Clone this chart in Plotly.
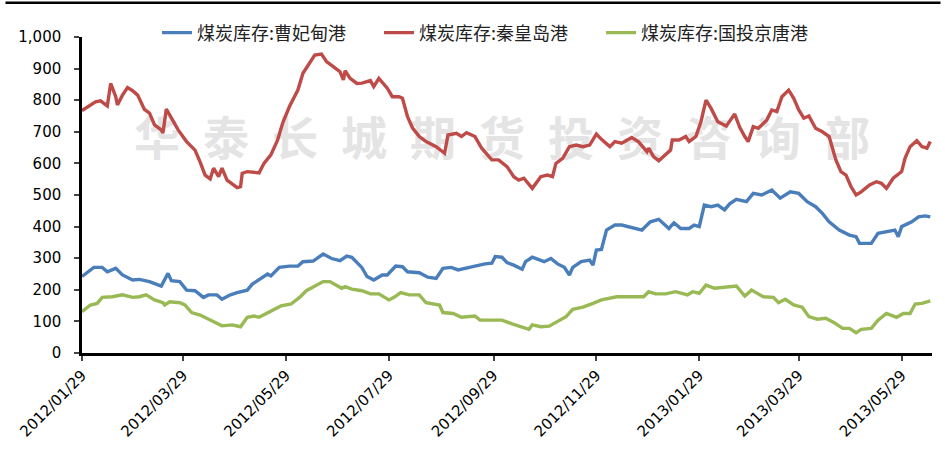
import pandas as pd
import plotly.graph_objects as go

start = pd.Timestamp('2012-01-29')

# day offsets from 2012/01/29 and values
cfd_days = [0, 7, 12, 15, 20, 24, 30, 34, 40, 47, 51, 53, 58, 62, 67, 72, 75, 80, 83, 88, 92, 98, 101, 105,
            110, 112, 117, 123, 128, 131, 137, 143, 148, 153, 157, 160, 166, 169, 173, 178, 181, 186, 190,
            193, 200, 205, 210, 214, 219, 223, 228, 233, 239, 243, 245, 249, 252, 256, 261, 263, 267, 271,
            274, 278, 282, 286, 289, 291, 296, 301, 303, 305, 308, 311, 316, 320, 324, 329, 332, 337, 342,
            348, 351, 355, 360, 363, 366, 369, 373, 377, 381, 384, 388, 394, 398, 403, 409, 414, 420, 425,
            430, 435, 439, 443, 449, 455, 459, 461, 467, 468, 472, 478, 482, 484, 486, 492, 496, 500, 503]
cfd_vals = [242, 271, 271, 257, 268, 247, 231, 233, 226, 212, 252, 229, 226, 199, 197, 176, 184, 184, 170,
            184, 191, 199, 218, 231, 250, 244, 271, 275, 275, 289, 291, 313, 299, 292, 307, 303, 270, 242,
            231, 247, 247, 275, 273, 257, 254, 240, 236, 268, 271, 263, 268, 275, 282, 284, 305, 303, 286,
            278, 265, 289, 303, 294, 289, 299, 282, 271, 247, 271, 289, 294, 278, 326, 328, 389, 405, 405,
            400, 394, 389, 415, 423, 394, 412, 394, 394, 405, 400, 468, 463, 468, 453, 472, 486, 479, 505,
            500, 516, 490, 510, 505, 479, 463, 442, 415, 389, 373, 368, 347, 349, 347, 379, 384, 389, 368,
            400, 415, 431, 434, 431]

qhd_days = [0, 5, 8, 11, 15, 17, 20, 21, 24, 27, 30, 33, 37, 40, 43, 47, 48, 50, 53, 57, 62, 67, 70, 73, 76,
            78, 81, 83, 86, 89, 92, 94, 95, 98, 105, 108, 112, 116, 119, 123, 128, 131, 135, 138, 142, 145,
            149, 153, 155, 156, 159, 163, 166, 171, 173, 176, 181, 184, 188, 190, 193, 196, 200, 204, 210,
            215, 217, 222, 225, 228, 233, 237, 243, 247, 252, 256, 259, 262, 267, 272, 276, 279, 281, 285,
            289, 293, 297, 301, 305, 308, 313, 316, 320, 326, 330, 335, 336, 339, 342, 346, 349, 350, 354,
            358, 360, 364, 367, 370, 373, 377, 380, 382, 387, 390, 393, 395, 398, 401, 406, 409, 412, 415,
            419, 422, 425, 428, 431, 435, 439, 443, 447, 450, 453, 456, 459, 462, 467, 471, 474, 477, 481,
            486, 488, 491, 495, 498, 501, 503]
qhd_vals = [767, 785, 795, 798, 782, 853, 811, 785, 816, 840, 830, 816, 771, 759, 722, 706, 696, 772, 744,
            706, 669, 642, 605, 563, 551, 585, 558, 585, 547, 535, 523, 526, 569, 574, 570, 601, 627, 674,
            728, 780, 832, 885, 917, 943, 946, 922, 906, 890, 864, 893, 869, 853, 854, 862, 843, 869, 838,
            811, 811, 806, 748, 712, 685, 669, 653, 632, 690, 695, 685, 697, 685, 648, 611, 611, 590, 558,
            547, 553, 521, 558, 563, 558, 600, 616, 653, 658, 653, 658, 693, 676, 653, 669, 664, 682, 668,
            637, 648, 621, 608, 627, 642, 674, 674, 685, 669, 685, 732, 800, 774, 732, 722, 718, 756, 714,
            685, 669, 716, 711, 737, 769, 764, 811, 832, 806, 769, 743, 750, 711, 700, 685, 611, 574, 563,
            526, 500, 510, 532, 542, 537, 521, 553, 574, 616, 653, 672, 653, 648, 669]

gtjt_days = [0, 5, 9, 12, 18, 24, 30, 34, 38, 43, 48, 49, 52, 58, 61, 65, 70, 75, 80, 83, 89, 94, 98, 102,
             105, 110, 114, 118, 124, 129, 133, 137, 143, 147, 151, 154, 156, 160, 166, 171, 176, 182, 185,
             189, 194, 200, 204, 212, 214, 220, 225, 233, 236, 243, 249, 255, 261, 265, 267, 272, 277, 283,
             287, 291, 297, 303, 308, 317, 323, 329, 333, 336, 340, 346, 352, 359, 362, 366, 370, 375, 382,
             388, 393, 397, 404, 410, 413, 417, 422, 427, 431, 436, 441, 446, 451, 455, 459, 462, 468, 472,
             477, 483, 487, 491, 494, 498, 503]
gtjt_vals = [131, 152, 157, 176, 178, 184, 176, 178, 184, 168, 159, 152, 162, 159, 152, 128, 120, 107, 94,
             86, 89, 83, 113, 117, 113, 128, 138, 149, 155, 176, 197, 208, 226, 226, 215, 205, 210, 202, 197,
             187, 187, 168, 176, 191, 184, 184, 159, 152, 128, 125, 113, 117, 104, 104, 104, 92, 81, 75, 89,
             83, 85, 104, 115, 138, 145, 157, 168, 178, 178, 176, 178, 194, 187, 187, 194, 184, 194, 189,
             215, 205, 208, 212, 180, 199, 178, 176, 159, 170, 152, 145, 115, 107, 110, 96, 78, 78, 64, 75,
             78, 104, 125, 113, 125, 125, 155, 157, 165]

tick_dates = ['2012-01-29', '2012-03-29', '2012-05-29', '2012-07-29', '2012-09-29', '2012-11-29',
              '2013-01-29', '2013-03-29', '2013-05-29']

names = ['煤炭库存:曹妃甸港', '煤炭库存:秦皇岛港', '煤炭库存:国投京唐港']
colors = ['#4a7ebb', '#be4b48', '#98b954']


def to_dates(days):
    return [start + pd.Timedelta(days=d) for d in days]


fig = go.Figure()

# watermark, drawn first so the lines sit on top of it
fig.add_trace(go.Scatter(x=[start + pd.Timedelta(days=249)], y=[662], mode='text',
                         text=['\u2002'.join('华泰长城期货投资咨询部')], showlegend=False, hoverinfo='skip',
                         textfont=dict(family='Noto Sans CJK SC', size=46, color='#e4e4e4', weight='bold')))

for days, vals, name, c in zip([cfd_days, qhd_days, gtjt_days], [cfd_vals, qhd_vals, gtjt_vals], names, colors):
    fig.add_trace(go.Scatter(x=to_dates(days), y=vals, mode='lines', name=name,
                             line=dict(color=c, width=3.4)))

fig.update_layout(
    width=945, height=450,
    margin=dict(l=82, r=13, t=37, b=97),
    plot_bgcolor='white', paper_bgcolor='white',
    font=dict(family='DejaVu Sans', size=14, color='black'),
    legend=dict(orientation='h', x=0.48, xanchor='center', y=1.013, yanchor='middle',
                font=dict(family='Noto Sans CJK SC', size=18, color='#222222'),
                itemwidth=30, entrywidth=177, bgcolor='rgba(0,0,0,0)'),
    shapes=[dict(type='line', xref='paper', yref='paper', x0=-0.09, x1=1.01, y0=1.108, y1=1.108,
                 line=dict(color='black', width=2.5))],
)
fig.update_xaxes(range=[start, start + pd.Timedelta(days=504)], tickvals=tick_dates,
                 tickformat='%Y/%m/%d', tickangle=-45, ticks='outside', ticklen=5, tickwidth=2,
                 showline=True, linecolor='black', linewidth=2.5, showgrid=False, zeroline=False,
                 tickfont=dict(size=15), automargin=False)
fig.update_yaxes(range=[0, 1000], dtick=100, tickformat=',', ticks='outside', ticklen=5, tickwidth=2,
                 showline=True, linecolor='black', linewidth=2.5, showgrid=False, zeroline=False,
                 tickfont=dict(size=15), ticklabelstandoff=10, automargin=False)

# drop the page's default body margin so the figure sits at the window's corner
fig.write_html("out.html", config={'displayModeBar': False},
               post_script="document.body.style.margin='0';")
